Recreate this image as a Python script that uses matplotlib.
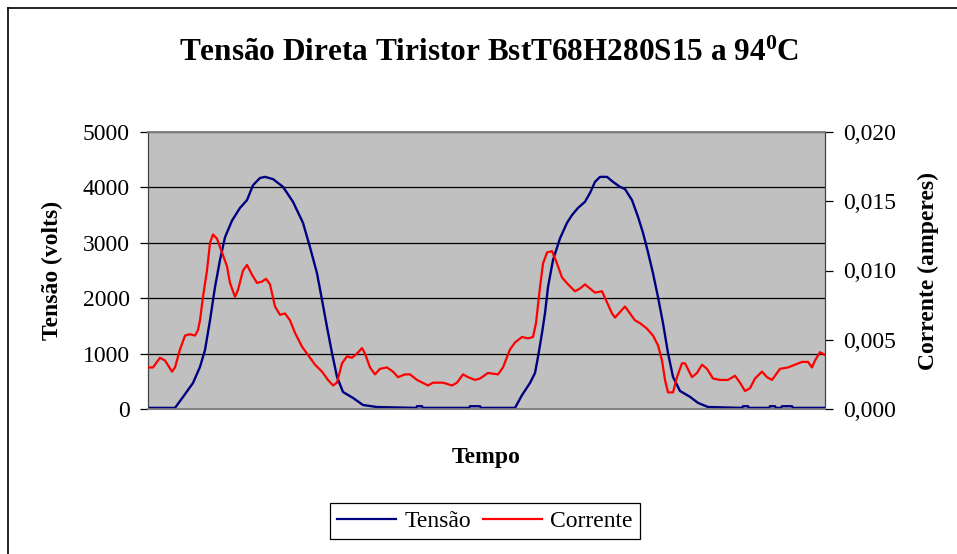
import matplotlib
matplotlib.use("Agg")
import matplotlib.pyplot as plt
from matplotlib.lines import Line2D

plt.rcParams['font.family'] = ['Liberation Serif', 'DejaVu Serif']
plt.rcParams['mathtext.fontset'] = 'custom'
plt.rcParams['mathtext.rm'] = 'Liberation Serif'
plt.rcParams['mathtext.bf'] = 'Liberation Serif:bold'
plt.rcParams['mathtext.it'] = 'Liberation Serif:italic'

# ---- data (time in arbitrary units) ----
tensao_t = [0, 27, 35, 45, 52, 57, 62, 67, 72, 77, 84, 92, 99, 105, 112, 117, 125, 135,
            145, 155, 162, 169, 174, 179, 184, 189, 195, 205, 215, 229, 268, 269, 274, 275,
            321, 322, 332, 333, 367, 374, 382, 387, 390, 394, 397, 400, 405, 412, 419, 424,
            430, 437, 442, 447, 452, 459, 465, 472, 477, 484, 490, 495, 500, 505, 510, 515,
            520, 525, 532, 542, 550, 560, 594, 595, 600, 601, 621, 622, 627, 628, 633, 634,
            644, 645, 677]
tensao_v = [20, 20, 217, 470, 760, 1065, 1600, 2200, 2690, 3100, 3400, 3630, 3770, 4040,
            4170, 4190, 4150, 4010, 3740, 3360, 2920, 2450, 1970, 1480, 1010, 580, 307, 200,
            72, 36, 20, 50, 50, 20, 20, 50, 50, 20, 20, 250, 470, 650, 940, 1370, 1730, 2200,
            2690, 3080, 3360, 3500, 3630, 3740, 3900, 4100, 4190, 4190, 4100, 4010, 3970,
            3770, 3470, 3180, 2830, 2450, 2020, 1550, 1010, 580, 325, 220, 110, 36, 20, 50,
            50, 20, 20, 50, 50, 20, 20, 50, 50, 20, 20]

corrente_t = [0, 5, 12, 17, 24, 27, 32, 37, 42, 47, 50, 52, 55, 59, 62, 65, 69, 74, 79, 82,
              87, 90, 95, 99, 104, 109, 114, 118, 122, 127, 132, 137, 142, 147, 154, 160, 167,
              174, 180, 185, 189, 194, 199, 204, 209, 214, 217, 222, 227, 232, 239, 245, 250,
              257, 262, 269, 280, 285, 295, 304, 309, 315, 320, 327, 332, 340, 350, 355, 362,
              367, 374, 380, 385, 388, 392, 395, 399, 404, 409, 414, 420, 427, 432, 437, 442,
              447, 454, 459, 464, 467, 472, 477, 482, 487, 492, 499, 505, 510, 514, 517, 520,
              525, 529, 534, 537, 544, 549, 554, 559, 565, 572, 580, 587, 592, 597, 602, 607,
              614, 619, 624, 632, 640, 647, 654, 660, 664, 667, 672, 677]
corrente_a = [.0030, .0030, .0037, .0035, .0027, .0030, .0043, .0053, .0054, .0053, .0057,
              .0064, .0081, .0100, .0120, .0126, .0123, .0113, .0103, .0091, .0081, .0086,
              .0100, .0104, .0097, .0091, .0092, .0094, .0090, .0074, .0068, .0069, .0064,
              .0055, .0045, .0039, .0032, .0027, .0021, .0017, .0019, .0033, .0038, .0037,
              .0040, .0044, .0040, .0030, .0025, .0029, .0030, .0027, .0023, .0025, .0025,
              .0021, .0017, .0019, .0019, .0017, .0019, .0025, .0023, .0021, .0022, .0026,
              .0025, .0030, .0043, .0048, .0052, .0051, .0052, .0062, .0088, .0105, .0113,
              .0114, .0105, .0095, .0090, .0085, .0087, .0090, .0087, .0084, .0085, .0077,
              .0069, .0066, .0070, .0074, .0069, .0064, .0062, .0058, .0053, .0046, .0035,
              .0021, .0012, .0012, .0023, .0033, .0033, .0023, .0026, .0032, .0029, .0022,
              .0021, .0021, .0024, .0019, .0013, .0015, .0022, .0027, .0023, .0021, .0029,
              .0030, .0032, .0034, .0034, .0030, .0035, .0041, .0039]

left_ticks = [0, 1000, 2000, 3000, 4000, 5000]
right_ticks = [0.000, 0.005, 0.010, 0.015, 0.020]
right_labels = ['0,000', '0,005', '0,010', '0,015', '0,020']

title = r"Tensão Direta Tiristor BstT68H280S15 a 94$^{\mathbf{0}}$C"

W, H = 957, 554
fig = plt.figure(figsize=(W / 100, H / 100), dpi=100)
fig.patch.set_facecolor('white')

L, R, T, B = 148, 825, 132, 409
ax = fig.add_axes([L / W, 1 - B / H, (R - L) / W, (B - T) / H])
ax.set_facecolor('#C0C0C0')
ax2 = ax.twinx()

l1, = ax.plot(tensao_t, tensao_v, color='#000080', lw=1.7, zorder=3)
l2, = ax2.plot(corrente_t, corrente_a, color='#FF0000', lw=1.6, zorder=3)

ax.set_xlim(0, 677)
ax.set_ylim(0, 5000)
ax2.set_ylim(0, 0.020)
ax.set_yticks(left_ticks)
ax.set_yticklabels([str(v) for v in left_ticks])
ax2.set_yticks(right_ticks)
ax2.set_yticklabels(right_labels)
ax.set_xticks([])

ax.yaxis.grid(True, color='black', lw=0.9)
ax.set_axisbelow(True)

for a in (ax, ax2):
    a.tick_params(axis='y', length=6, width=0.9, pad=7, labelsize=17, colors='black')
    for s in ('top', 'bottom'):
        a.spines[s].set_color('#808080')
        a.spines[s].set_linewidth(1.2)
    a.spines['left'].set_color('#404040')
    a.spines['right'].set_color('#404040')

ax.set_ylabel('Tensão (volts)', fontsize=17, fontweight='bold', labelpad=14)
ax2.set_ylabel('Corrente (amperes)', fontsize=17, fontweight='bold', labelpad=16)
ax.set_xlabel('Tempo', fontsize=17, fontweight='bold', labelpad=27)

fig.text(489 / W, 1 - 61 / H, title, ha='center', va='baseline',
         fontsize=22.5, fontweight='bold')

leg = fig.legend([l1, l2], ['Tensão', 'Corrente'], loc='center',
                 bbox_to_anchor=(485 / W, 1 - 521 / H), ncol=2, fontsize=17,
                 frameon=True, fancybox=False, edgecolor='black', framealpha=1,
                 handlelength=2.5, handletextpad=0.35, columnspacing=0.5,
                 borderpad=0.3, borderaxespad=0)
leg.get_frame().set_linewidth(0.9)
for h in leg.get_lines():
    h.set_linewidth(1.6)

x0 = 8 / W
yt = 1 - 8 / H
fig.add_artist(Line2D([x0, x0], [0, yt], transform=fig.transFigure, color='black', lw=1.2))
fig.add_artist(Line2D([x0, 1], [yt, yt], transform=fig.transFigure, color='black', lw=1.2))

fig.savefig('out.png', dpi=100)
